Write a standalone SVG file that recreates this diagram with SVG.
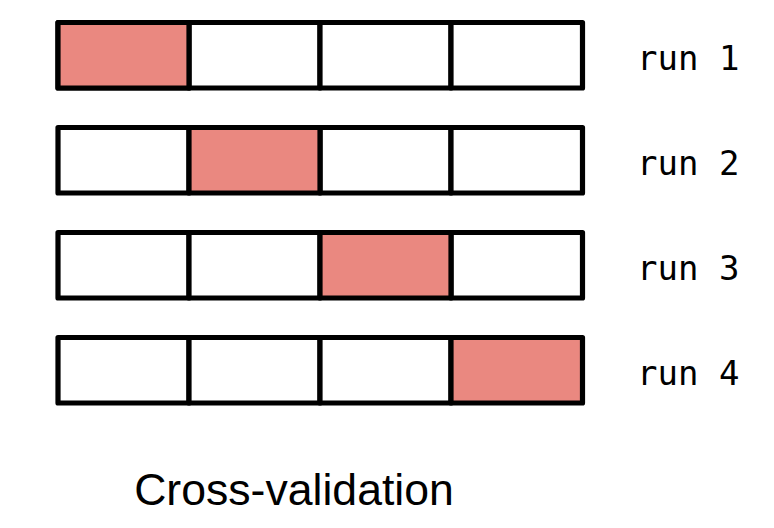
<svg xmlns="http://www.w3.org/2000/svg" width="774" height="528" viewBox="0 0 774 528">
<style>
.cell{fill:#ffffff;stroke:#000;stroke-width:5.2;stroke-linejoin:round}
.hl{fill:#EA8880}
.lbl{font-family:"DejaVu Sans Mono",monospace;font-size:34px;fill:#000}
.title{font-family:"Liberation Sans",Arial,sans-serif;font-size:44.6px;fill:#000}
</style>
<rect width="774" height="528" fill="#ffffff"/>
<g id="run1">
<rect class="cell" x="58" y="22.5" width="131" height="65.5"/>
<rect class="cell" x="189" y="22.5" width="131" height="65.5"/>
<rect class="cell" x="320" y="22.5" width="131" height="65.5"/>
<rect class="cell" x="451" y="22.5" width="131.5" height="65.5"/>
<rect class="cell hl" x="58" y="22.5" width="131" height="65.5"/>
<text class="lbl" x="637" y="70">run 1</text>
</g>
<g id="run2">
<rect class="cell" x="58" y="127.5" width="131" height="65.5"/>
<rect class="cell" x="320" y="127.5" width="131" height="65.5"/>
<rect class="cell" x="451" y="127.5" width="131.5" height="65.5"/>
<rect class="cell hl" x="189" y="127.5" width="131" height="65.5"/>
<text class="lbl" x="637" y="175">run 2</text>
</g>
<g id="run3">
<rect class="cell" x="58" y="232.5" width="131" height="65.5"/>
<rect class="cell" x="189" y="232.5" width="131" height="65.5"/>
<rect class="cell" x="451" y="232.5" width="131.5" height="65.5"/>
<rect class="cell hl" x="320" y="232.5" width="131" height="65.5"/>
<text class="lbl" x="637" y="280">run 3</text>
</g>
<g id="run4">
<rect class="cell" x="58" y="337.5" width="131" height="65.5"/>
<rect class="cell" x="189" y="337.5" width="131" height="65.5"/>
<rect class="cell" x="320" y="337.5" width="131" height="65.5"/>
<rect class="cell hl" x="451" y="337.5" width="131.5" height="65.5"/>
<text class="lbl" x="637" y="385">run 4</text>
</g>
<g id="connectors"></g>
<text class="title" x="294" y="505" text-anchor="middle">Cross-validation</text>
</svg>
